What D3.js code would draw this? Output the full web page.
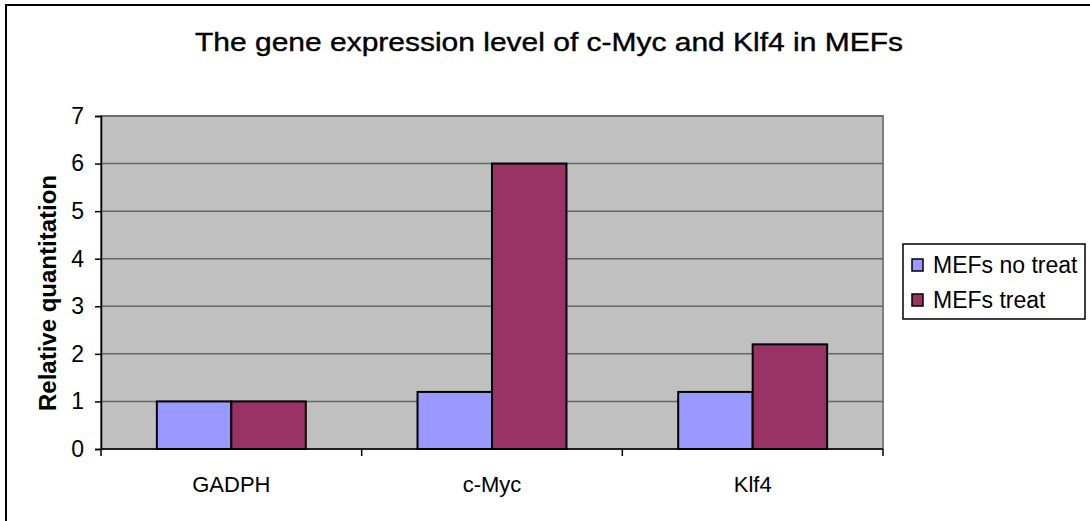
<!DOCTYPE html>
<html>
<head>
<meta charset="utf-8">
<script src="https://cdn.jsdelivr.net/npm/d3@7/dist/d3.min.js"></script>
<style>
  html, body { margin: 0; padding: 0; background: #fff; }
  svg { display: block; font-family: "Liberation Sans", Arial, sans-serif; }
</style>
</head>
<body>
<svg id="chart" width="1090" height="521"></svg>
<script>
const categories = ["GADPH", "c-Myc", "Klf4"];
const seriesNames = ["MEFs no treat", "MEFs treat"];
const noTreat = [1.0, 1.2, 1.2];
const treat = [1.0, 6.0, 2.2];
const yTicks = [0, 1, 2, 3, 4, 5, 6, 7];
const colors = ["#9999FF", "#993366"];
const title = "The gene expression level of c-Myc and Klf4 in MEFs";
const yLabel = "Relative quantitation";

const svg = d3.select("#chart");
const plot = { left: 101, top: 116, right: 883, bottom: 449 };

// outer chart border
svg.append("rect")
  .attr("x", 6).attr("y", 5).attr("width", 1100).attr("height", 530)
  .attr("fill", "#fff").attr("stroke", "#000").attr("stroke-width", 2);

const x0 = d3.scaleBand().domain(categories).range([plot.left, plot.right]).paddingInner(0).paddingOuter(0);
const x1 = d3.scaleBand().domain(seriesNames).range([0, x0.bandwidth()]).paddingInner(0).paddingOuter(0.75);
const y = d3.scaleLinear().domain([0, 7]).range([plot.bottom, plot.top]);

// plot background
svg.append("rect")
  .attr("x", plot.left).attr("y", plot.top)
  .attr("width", plot.right - plot.left).attr("height", plot.bottom - plot.top)
  .attr("fill", "#C0C0C0").attr("stroke", "#808080").attr("stroke-width", 2);

// gridlines
svg.append("g").selectAll("line").data(yTicks.filter(d => d > 0)).join("line")
  .attr("x1", plot.left).attr("x2", plot.right)
  .attr("y1", d => y(d)).attr("y2", d => y(d))
  .attr("stroke", "#666").attr("stroke-width", 1.5);

// bars
const data = categories.map((c, i) => ({ cat: c, vals: [noTreat[i], treat[i]] }));
const groups = svg.append("g").selectAll("g").data(data).join("g")
  .attr("transform", d => `translate(${x0(d.cat)},0)`);
groups.selectAll("rect").data(d => d.vals.map((v, j) => ({ s: seriesNames[j], v, j }))).join("rect")
  .attr("x", d => x1(d.s)).attr("width", x1.bandwidth())
  .attr("y", d => y(d.v)).attr("height", d => y(0) - y(d.v))
  .attr("fill", d => colors[d.j]).attr("stroke", "#000").attr("stroke-width", 2);

// y axis
const yAxis = d3.axisLeft(y).tickValues(yTicks).tickSize(6).tickPadding(11).tickFormat(d3.format("d"));
const gy = svg.append("g").attr("transform", `translate(${plot.left},0)`).call(yAxis);
gy.select(".domain").attr("stroke", "#000").attr("stroke-width", 1.5);
gy.selectAll(".tick line").attr("stroke", "#000").attr("stroke-width", 1.5);
gy.selectAll(".tick text").attr("font-size", 23).attr("fill", "#000")
  .attr("font-family", "'Liberation Sans', Arial, sans-serif");

// x axis: line + boundary ticks
svg.append("line").attr("x1", plot.left).attr("x2", plot.right)
  .attr("y1", plot.bottom).attr("y2", plot.bottom)
  .attr("stroke", "#000").attr("stroke-width", 1.5);
const bounds = categories.map(c => x0(c)).concat([x0(categories[categories.length - 1]) + x0.bandwidth()]);
svg.append("g").selectAll("line").data(bounds).join("line")
  .attr("x1", d => d).attr("x2", d => d)
  .attr("y1", plot.bottom).attr("y2", plot.bottom + 7)
  .attr("stroke", "#000").attr("stroke-width", 1.5);
svg.append("g").selectAll("text").data(categories).join("text")
  .attr("x", d => x0(d) + x0.bandwidth() / 2).attr("y", 492)
  .attr("text-anchor", "middle").attr("font-size", 22).attr("fill", "#000")
  .text(d => d);

// title
svg.append("text")
  .attr("x", 549).attr("y", 51)
  .attr("text-anchor", "middle").attr("font-size", 26).attr("font-weight", "500")
  .attr("stroke", "#000").attr("stroke-width", 0.4)
  .attr("textLength", 708).attr("lengthAdjust", "spacingAndGlyphs")
  .attr("fill", "#000").text(title);

// y label
svg.append("text")
  .attr("transform", "translate(56,293) rotate(-90)")
  .attr("text-anchor", "middle").attr("font-size", 24).attr("font-weight", "bold")
  .attr("fill", "#000").text(yLabel);

// legend
const lg = svg.append("g");
lg.append("rect").attr("x", 903).attr("y", 244).attr("width", 182).attr("height", 75)
  .attr("fill", "#fff").attr("stroke", "#000").attr("stroke-width", 1.5);
const rows = lg.selectAll("g").data(seriesNames).join("g")
  .attr("transform", (d, i) => `translate(0,${i * 35})`);
rows.append("rect").attr("x", 912).attr("y", 259).attr("width", 11).attr("height", 12)
  .attr("fill", (d, i) => colors[i]).attr("stroke", "#000").attr("stroke-width", 1.5);
rows.append("text").attr("x", 933).attr("y", 273).attr("font-size", 23).attr("fill", "#000")
  .text(d => d);
</script>
</body>
</html>
